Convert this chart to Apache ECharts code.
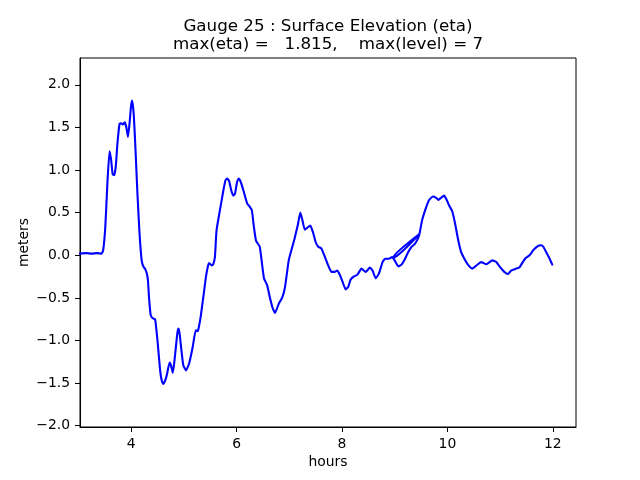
<!DOCTYPE html>
<html>
<head>
<meta charset="utf-8">
<script src="https://cdn.jsdelivr.net/npm/echarts@6/dist/echarts.min.js"></script>
<style>html,body{margin:0;padding:0;background:#fff;}#chart{width:640px;height:480px;}</style>
</head>
<body>
<div id="chart"></div>
<script>
// Time (hours) and surface elevation eta (meters), in plotting order
const hours = [3.03,3.15,3.25,3.35,3.44,3.47,3.51,3.55,3.59,3.62,3.65,3.68,3.71,3.74,3.78,3.81,3.84,3.88,3.91,3.94,3.97,4.0,4.02,4.05,4.08,4.12,4.16,4.2,4.23,4.265,4.3,4.32,4.34,4.37,4.41,4.455,4.5,4.55,4.58,4.61,4.645,4.675,4.73,4.76,4.79,4.82,4.85,4.88,4.9,4.92,4.94,4.97,4.99,5.04,5.1,5.17,5.225,5.26,5.275,5.32,5.38,5.42,5.46,5.48,5.53,5.56,5.59,5.62,5.685,5.75,5.79,5.825,5.86,5.9,5.94,5.97,6.01,6.04,6.08,6.13,6.2,6.25,6.29,6.33,6.37,6.44,6.475,6.52,6.58,6.63,6.68,6.73,6.8,6.87,6.92,6.99,7.04,7.1,7.16,7.21,7.25,7.295,7.345,7.4,7.45,7.5,7.55,7.61,7.67,7.74,7.8,7.86,7.91,7.96,8.01,8.07,8.12,8.16,8.22,8.29,8.37,8.45,8.53,8.58,8.64,8.70,8.77,8.82,8.89,8.95,8.97,9.47,8.97,9.0,9.07,9.13,9.19,9.25,9.32,9.38,9.44,9.47,9.52,9.59,9.65,9.725,9.775,9.83,9.88,9.94,9.99,10.04,10.09,10.14,10.2,10.26,10.33,10.39,10.47,10.55,10.64,10.74,10.85,10.93,11.0,11.08,11.15,11.21,11.29,11.37,11.43,11.49,11.56,11.63,11.71,11.78,11.82,11.88,11.94,11.99];
const eta = [0.02,0.025,0.02,0.025,0.02,0.06,0.33,0.85,1.22,1.12,0.95,0.94,1.05,1.31,1.54,1.55,1.535,1.56,1.5,1.39,1.55,1.76,1.815,1.65,1.28,0.72,0.25,-0.06,-0.13,-0.16,-0.22,-0.3,-0.5,-0.7,-0.74,-0.75,-1.0,-1.35,-1.47,-1.51,-1.47,-1.41,-1.26,-1.3,-1.38,-1.25,-1.07,-0.9,-0.86,-0.92,-1.035,-1.2,-1.29,-1.35,-1.27,-1.07,-0.88,-0.89,-0.87,-0.72,-0.44,-0.25,-0.12,-0.09,-0.12,-0.1,-0.02,0.29,0.53,0.76,0.88,0.9,0.87,0.76,0.70,0.72,0.86,0.90,0.86,0.76,0.61,0.57,0.53,0.33,0.17,0.10,-0.06,-0.27,-0.35,-0.49,-0.61,-0.676,-0.57,-0.49,-0.37,-0.06,0.06,0.195,0.35,0.50,0.41,0.30,0.325,0.35,0.27,0.156,0.10,0.08,-0.01,-0.12,-0.195,-0.195,-0.18,-0.23,-0.31,-0.40,-0.37,-0.29,-0.25,-0.23,-0.156,-0.195,-0.145,-0.18,-0.27,-0.215,-0.08,-0.04,-0.04,-0.02,-0.03,0.25,-0.03,-0.06,-0.13,-0.11,-0.05,0.03,0.10,0.13,0.195,0.25,0.41,0.55,0.645,0.69,0.68,0.65,0.675,0.70,0.645,0.575,0.52,0.39,0.195,0.04,-0.05,-0.11,-0.156,-0.12,-0.08,-0.105,-0.06,-0.08,-0.14,-0.195,-0.22,-0.18,-0.16,-0.14,-0.08,-0.03,0,0.06,0.105,0.117,0.10,0.03,-0.04,-0.11];
const xTicks = [4, 6, 8, 10, 12];
const yTicks = [-2.0, -1.5, -1.0, -0.5, 0.0, 0.5, 1.0, 1.5, 2.0];
const titleLines = ['Gauge 25 : Surface Elevation (eta)', 'max(eta) =   1.815,    max(level) = 7'];
const xName = 'hours';
const yName = 'meters';

const FONT = 'DejaVu Sans';
const points = hours.map((h, i) => [h, eta[i]]);
const fmtY = v => (v < 0 ? '\u2212' : '') + Math.abs(v).toFixed(1);

const chart = echarts.init(document.getElementById('chart'), null, {renderer: 'canvas'});
chart.setOption({
  animation: false,
  backgroundColor: '#ffffff',
  textStyle: {fontFamily: FONT},
  grid: {left: 80, right: 64, top: 58, bottom: 53, show: true, borderColor: '#000', borderWidth: 1, backgroundColor: 'transparent'},
  graphic: [
    {type: 'text', x: 328, y: 27, style: {text: titleLines[0], font: '16.7px "DejaVu Sans"', fill: '#000', textAlign: 'center', textVerticalAlign: 'middle'}},
    {type: 'text', x: 328, y: 44.5, style: {text: titleLines[1], font: '16.7px "DejaVu Sans"', fill: '#000', textAlign: 'center', textVerticalAlign: 'middle'}}
  ],
  xAxis: {
    type: 'value', min: 3.03, max: 12.44,
    name: xName, nameLocation: 'middle', nameGap: 28, nameMoveOverlap: false,
    nameTextStyle: {fontFamily: FONT, fontSize: 13.9, color: '#000'},
    axisLine: {show: true, onZero: false, lineStyle: {color: '#000', width: 1}},
    axisTick: {show: true, length: 5, inside: false, customValues: xTicks, lineStyle: {color: '#000', width: 1}},
    axisLabel: {customValues: xTicks, margin: 10, fontFamily: FONT, fontSize: 13.9, color: '#000', formatter: v => String(v)},
    splitLine: {show: false}
  },
  yAxis: {
    type: 'value', min: -2.015, max: 2.315,
    name: yName, nameLocation: 'middle', nameGap: 49, nameRotate: 90, nameMoveOverlap: false,
    nameTextStyle: {fontFamily: FONT, fontSize: 13.9, color: '#000'},
    axisLine: {show: true, onZero: false, lineStyle: {color: '#000', width: 1}},
    axisTick: {show: true, length: 5, inside: false, customValues: yTicks, lineStyle: {color: '#000', width: 1}},
    axisLabel: {customValues: yTicks, margin: 10, fontFamily: FONT, fontSize: 13.9, color: '#000', formatter: fmtY},
    splitLine: {show: false}
  },
  series: [{
    type: 'line', data: points, showSymbol: false, symbol: 'none', smooth: 0.15,
    lineStyle: {color: '#0000ff', width: 2.1, join: 'round', cap: 'round'},
    itemStyle: {color: '#0000ff'}
  }]
});
</script>
</body>
</html>
